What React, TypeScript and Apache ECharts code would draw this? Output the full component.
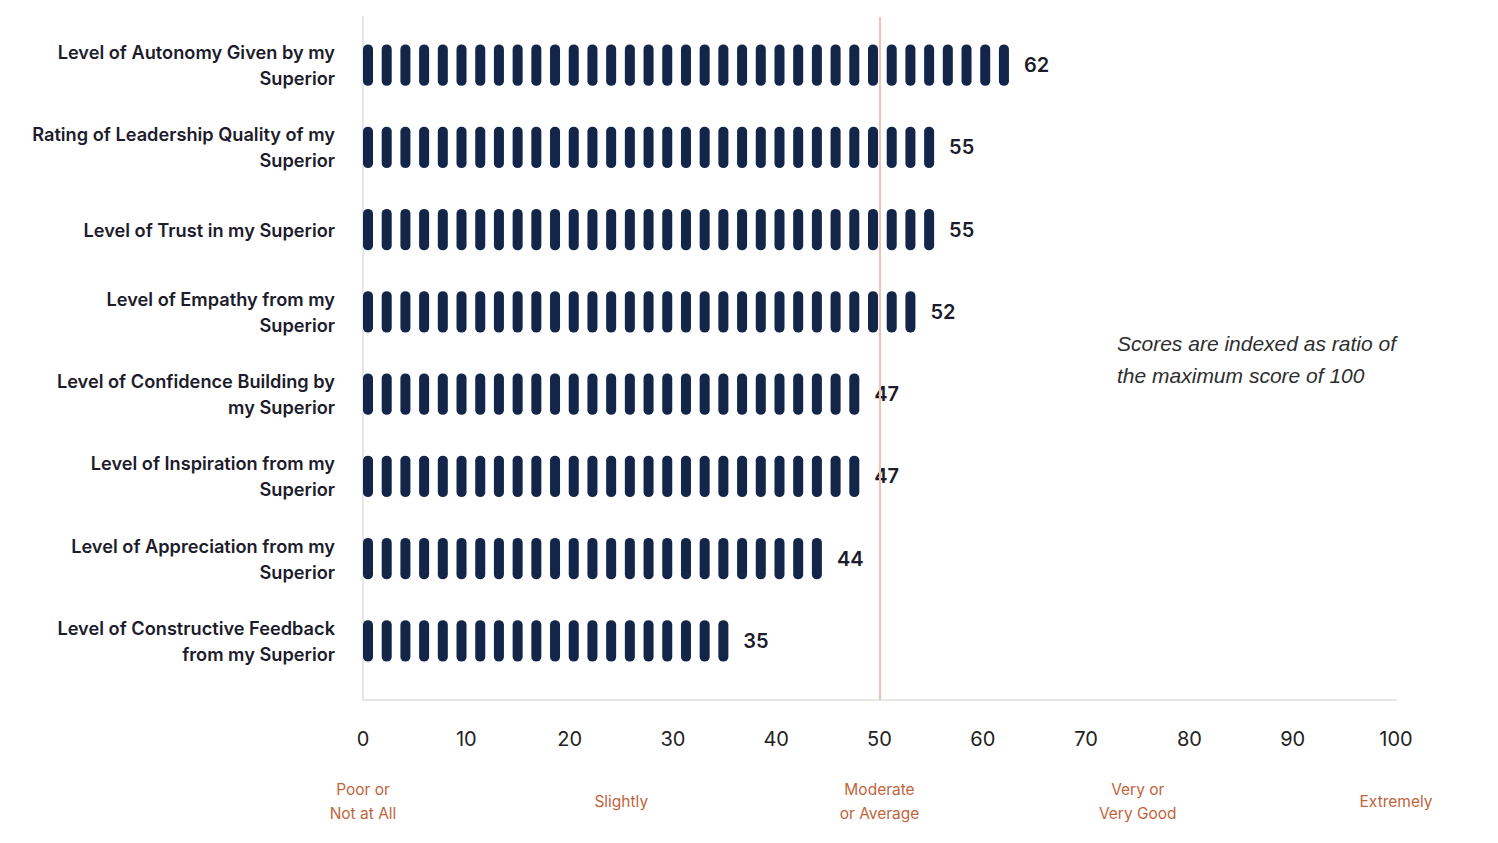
import React, { useEffect, useRef } from "react";
import * as echarts from "echarts";

const categories = [
  "Level of Autonomy Given by my\nSuperior",
  "Rating of Leadership Quality of my\nSuperior",
  "Level of Trust in my Superior",
  "Level of Empathy from my\nSuperior",
  "Level of Confidence Building by\nmy Superior",
  "Level of Inspiration from my\nSuperior",
  "Level of Appreciation from my\nSuperior",
  "Level of Constructive Feedback\nfrom my Superior",
];
const scores = [62, 55, 55, 52, 47, 47, 44, 35];
const scaleLabels = ["Poor or\nNot at All", "Slightly", "Moderate\nor Average", "Very or\nVery Good", "Extremely"];
const referenceValue = 50;
const noteLines = ["Scores are indexed as ratio of", "the maximum score of 100"];

const FONT = "Inter, 'Liberation Sans', Arial, sans-serif";
const NOTE_FONT = "'Liberation Sans', Arial, Helvetica, sans-serif";
const NAVY = "#13264a";
const PILL = "path://M0,4.5 A4.5,4.5 0 0 1 9,4.5 L9,36.5 A4.5,4.5 0 0 1 0,36.5 Z";

export default function App() {
  const ref = useRef<HTMLDivElement>(null);
  useEffect(() => {
    document.body.style.margin = "0";
    document.body.style.overflow = "hidden";
    const chart = echarts.init(ref.current!, undefined, { renderer: "svg" });
    const left = 363;
    const right = 102;
    chart.setOption({
      animation: false,
      backgroundColor: "#ffffff",
      textStyle: { fontFamily: FONT },
      grid: [
        { left, right, top: 24, bottom: 161 },
        { left, right, top: 17, bottom: 143 },
      ],
      xAxis: [
        { gridIndex: 0, type: "value", min: 0, max: 100, show: false },
        {
          gridIndex: 1,
          type: "value",
          min: 0,
          max: 100,
          interval: 10,
          axisLine: { show: true, lineStyle: { color: "#e6e6e6", width: 2 } },
          axisTick: { show: false },
          splitLine: { show: false },
          axisLabel: { margin: 29, fontSize: 20, color: "#222222", fontFamily: FONT },
        },
        {
          gridIndex: 1,
          type: "value",
          min: 0,
          max: 100,
          interval: 25,
          position: "bottom",
          axisLine: { show: false },
          axisTick: { show: false },
          splitLine: { show: false },
          axisLabel: {
            margin: 101,
            verticalAlign: "middle",
            fontSize: 15.5,
            lineHeight: 24,
            color: "#c0643c",
            fontFamily: FONT,
            formatter: (v: number) => scaleLabels[Math.round(v / 25)] ?? "",
          },
        },
      ],
      yAxis: [
        {
          gridIndex: 0,
          type: "category",
          data: categories,
          inverse: true,
          axisLine: { show: false },
          axisTick: { show: false },
          axisLabel: {
            margin: 28,
            fontSize: 18.2,
            lineHeight: 26,
            fontWeight: 600,
            color: "#1c1c2c",
            fontFamily: FONT,
            align: "right",
          },
        },
        {
          gridIndex: 1,
          type: "value",
          min: 0,
          max: 1,
          axisLine: { show: true, lineStyle: { color: "#e6e6e6", width: 2 } },
          axisTick: { show: false },
          axisLabel: { show: false },
          splitLine: { show: false },
        },
      ],
      series: [
        {
          type: "pictorialBar",
          xAxisIndex: 0,
          yAxisIndex: 0,
          data: scores,
          symbol: PILL,
          symbolSize: [10, 41],
          symbolRepeat: true,
          symbolBoundingData: 91.5,
          symbolMargin: 4.4,
          symbolClip: false,
          itemStyle: { color: NAVY },
          label: {
            show: true,
            position: "right",
            distance: 15,
            fontSize: 20,
            fontWeight: 600,
            color: "#1c1c2c",
            fontFamily: FONT,
          },
          z: 3,
        },
        {
          type: "line",
          xAxisIndex: 1,
          yAxisIndex: 1,
          data: [],
          markLine: {
            silent: true,
            symbol: "none",
            label: { show: false },
            lineStyle: { color: "#efc3b2", width: 2, type: "solid" },
            data: [{ xAxis: referenceValue }],
          },
          z: 2,
        },
      ],
      graphic: [
        {
          type: "text",
          right: right,
          top: 327,
          style: {
            text: noteLines.join("\n"),
            font: `italic 21px ${NOTE_FONT}`,
            lineHeight: 32,
            fill: "#2e2e2e",
            align: "right",
          },
        },
      ],
    });
    return () => chart.dispose();
  }, []);
  return <div ref={ref} style={{ width: "1498px", height: "843px" }} />;
}
